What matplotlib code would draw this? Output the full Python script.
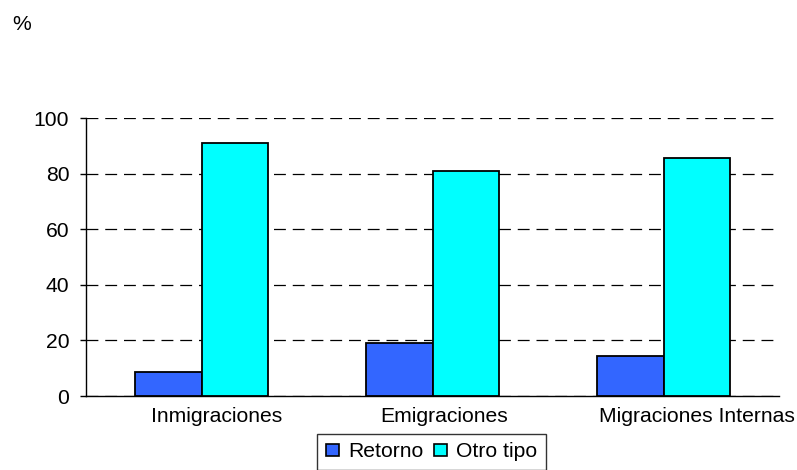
"""Bar chart: Retorno vs Otro tipo by migration type."""
import numpy as np
import matplotlib
matplotlib.use("Agg")
import matplotlib.pyplot as plt
import matplotlib.patches as mpatches

categorias = ['Inmigraciones', 'Emigraciones', 'Migraciones Internas']
retorno = [8.8, 19.0, 14.3]
otro_tipo = [91.1, 80.9, 85.7]
series = ['Retorno', 'Otro tipo']
yticks = [0, 20, 40, 60, 80, 100]

if __name__ == "__main__":
    plt.rcParams['font.family'] = ['Liberation Sans', 'DejaVu Sans']
    plt.rcParams['font.size'] = 15.2

    fig = plt.figure(figsize=(7.97, 4.70), dpi=100)
    ax = fig.add_axes([86 / 797, 1 - 396 / 470, (779 - 86) / 797, (396 - 118) / 470])

    x = np.arange(len(categorias))
    w = 0.288
    ax.bar(x - w / 2, retorno, w, color='#3366FF', edgecolor='black', linewidth=1.3, zorder=3)
    ax.bar(x + w / 2, otro_tipo, w, color='#00FFFF', edgecolor='black', linewidth=1.3, zorder=3)

    ax.set_xlim(-0.5, len(categorias) - 0.5)
    ax.set_ylim(0, 100)
    ax.set_yticks(yticks)
    ax.yaxis.grid(True, linestyle=(0, (9.5, 5.5)), color='black', linewidth=0.9, zorder=0)
    ax.set_axisbelow(True)

    # labels sit a bit right of the category centre, as in the original
    ax.set_xticks(x + np.array([0.065, 0.05, 0.145]))
    ax.set_xticklabels(categorias)
    ax.tick_params(axis='x', length=0, pad=8)
    ax.tick_params(axis='y', length=4, width=1, pad=8, direction='out')

    for s in ['top', 'right']:
        ax.spines[s].set_visible(False)
    for s in ['left', 'bottom']:
        ax.spines[s].set_color('black')
        ax.spines[s].set_linewidth(1)

    fig.text(12 / 797, 1 - 30 / 470, '%', fontsize=15.2)

    handles = [mpatches.Patch(facecolor='#3366FF', edgecolor='black', linewidth=1.2),
               mpatches.Patch(facecolor='#00FFFF', edgecolor='black', linewidth=1.2)]
    leg = fig.legend(handles, series, loc='upper center', ncol=2,
                     bbox_to_anchor=(431.5 / 797, 1 - 434 / 470), borderaxespad=0,
                     handlelength=0.6, handleheight=0.55, handletextpad=0.45,
                     columnspacing=0.5, borderpad=0.4, fancybox=False, frameon=True)
    leg.get_frame().set_edgecolor('black')
    leg.get_frame().set_linewidth(1)

    plt.savefig('out.png', dpi=100, facecolor='w')
